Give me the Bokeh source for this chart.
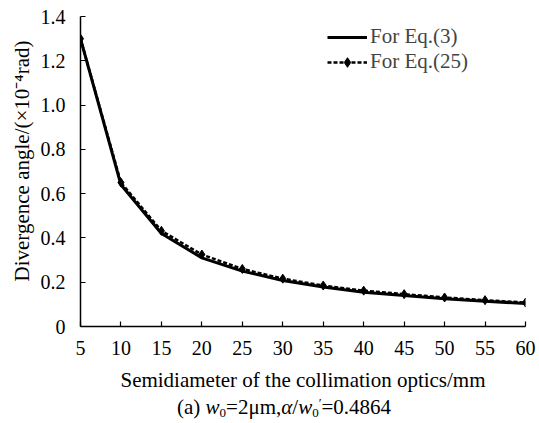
from bokeh.plotting import figure
from bokeh.models import Range1d, FixedTicker, Div
from bokeh.layouts import column
from bokeh.embed import file_html
from bokeh.resources import INLINE

x_vals = [5, 10, 15, 20, 25, 30, 35, 40, 45, 50, 55, 60]
eq3 = [1.30, 0.640, 0.420, 0.310, 0.250, 0.208, 0.178, 0.155, 0.140, 0.125, 0.114, 0.104]
eq25 = [1.30, 0.650, 0.432, 0.325, 0.260, 0.216, 0.185, 0.162, 0.146, 0.131, 0.119, 0.108]
x_ticks = list(range(5, 61, 5))
y_ticks = [0, 0.2, 0.4, 0.6, 0.8, 1.0, 1.2, 1.4]
y_tick_labels = ["0", "0.2", "0.4", "0.6", "0.8", "1.0", "1.2", "1.4"]

FONT = "Liberation Serif"
W, H = 539, 397
L, R, T, B = 80, 14, 16, 71

p = figure(width=W, height=H, output_backend="svg", toolbar_location=None,
           x_range=Range1d(5, 60), y_range=Range1d(0, 1.4),
           min_border_left=L, min_border_right=R, min_border_top=T, min_border_bottom=B)
p.outline_line_color = None
p.grid.visible = False
p.border_fill_color = "white"

for ax in (p.xaxis[0], p.yaxis[0]):
    ax.major_tick_in = 5
    ax.major_tick_out = 0
    ax.minor_tick_line_color = None
    ax.axis_line_color = "black"
    ax.axis_line_width = 1.5
    ax.major_tick_line_width = 1.2
    ax.major_label_text_font = FONT
    ax.major_label_text_font_size = "20px"
    ax.major_label_text_color = "black"
    ax.axis_label_text_font = FONT
    ax.axis_label_text_font_size = "21px"
    ax.axis_label_text_font_style = "normal"
    ax.axis_label_text_color = "black"

p.xaxis.ticker = FixedTicker(ticks=x_ticks)
p.yaxis.ticker = FixedTicker(ticks=y_ticks)
p.yaxis.major_label_overrides = {v: s for v, s in zip(y_ticks, y_tick_labels)}
p.xaxis.major_label_standoff = 14
p.yaxis.major_label_standoff = 15
p.xaxis.axis_label = "Semidiameter of the collimation optics/mm"
p.xaxis.axis_label_standoff = 10
p.yaxis.axis_label = "\u00a0\u00a0\u00a0\u00a0Divergence angle/(\u00d710\u207b\u2074rad)"
p.yaxis.axis_label_standoff = 4

p.line(x_vals, eq3, line_color="black", line_width=3, legend_label="For Eq.(3)")
p.line(x_vals, eq25, line_color="black", line_width=2.5, line_dash="4 2",
       legend_label="For Eq.(25)")
p.scatter(x_vals, eq25, marker="diamond", size=9, color="black", legend_label="For Eq.(25)")

lg = p.legend[0]
lg.location = (247, 252)
lg.border_line_color = None
lg.background_fill_alpha = 0
lg.padding = 0
lg.margin = 0
lg.spacing = 0
lg.glyph_width = 40
lg.glyph_height = 24
lg.label_standoff = 3
lg.label_text_font = FONT
lg.label_text_font_size = "21px"
lg.label_height = 24

SUB = "font-size:13px;line-height:0;vertical-align:-3px"
SUP = "font-size:13px;line-height:0;vertical-align:7px"
sub = Div(text=("<div style='font-family:\"Liberation Serif\";font-size:21px;line-height:21px;"
                "color:black;white-space:nowrap;padding-left:177px;padding-top:0px'>"
                "(a) <i>w</i><span style='%s'>0</span>=2\u03bcm,"
                "<i>\u03b1</i>/<i>w</i><span style='%s'>0</span>"
                "<span style='%s'>\u2032</span>=0.4864</div>") % (SUB, SUB, SUP),
          width=W, height=26, margin=0)

layout = column(p, sub, spacing=0)
open("out.html", "w").write(file_html(layout, INLINE))
